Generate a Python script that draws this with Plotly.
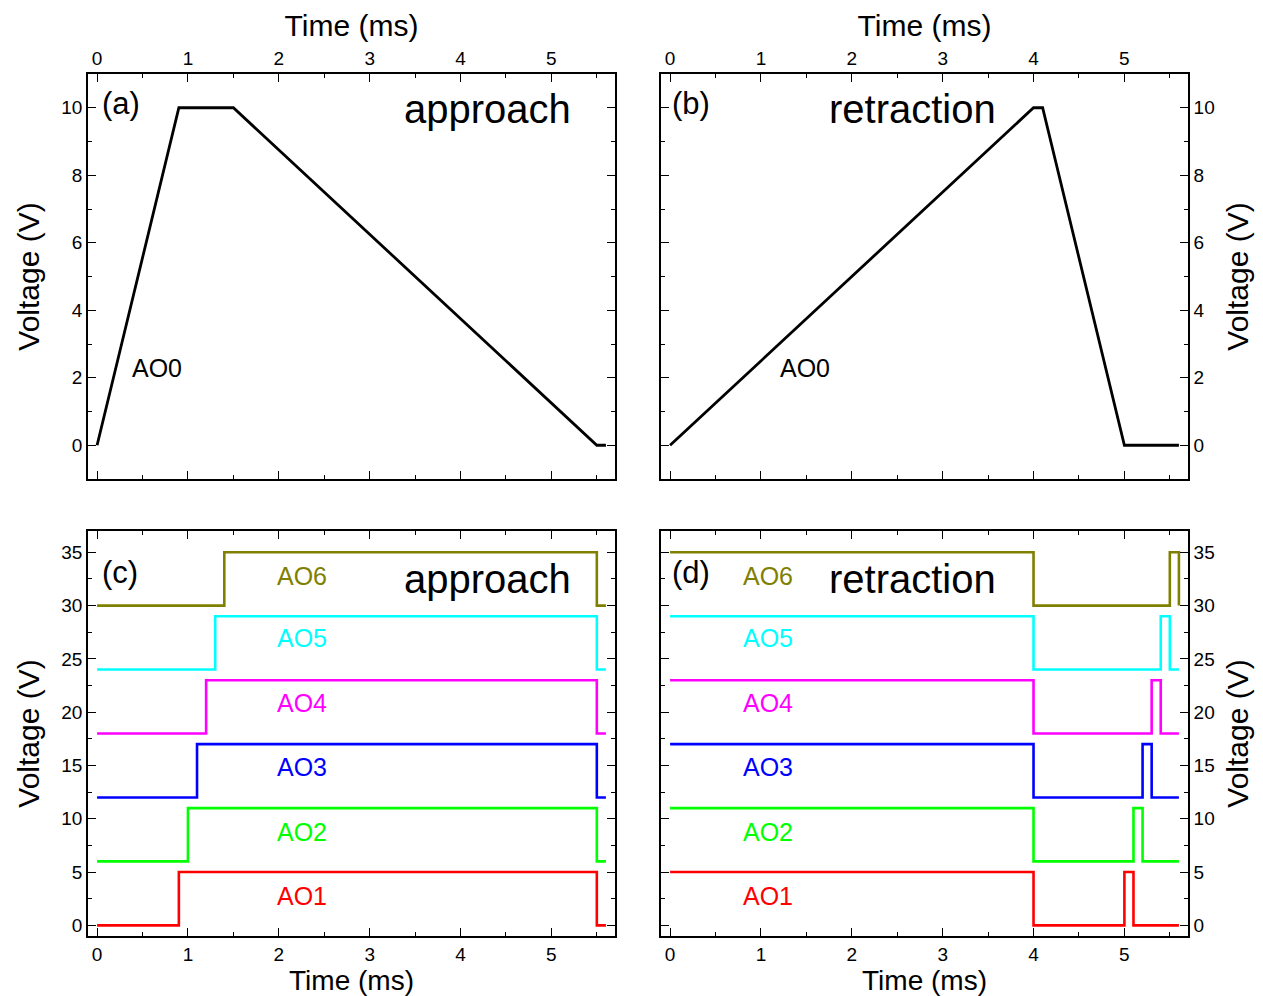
import plotly.graph_objects as go

# ---- data ----
t_approach = [0, 0.9, 1.5, 5.5, 5.6]
v_approach = [0, 10, 10, 0, 0]
t_retract = [0, 4.0, 4.1, 5.0, 5.6]
v_retract = [0, 10, 10, 0, 0]

channels = ["AO1", "AO2", "AO3", "AO4", "AO5", "AO6"]
colors = ["#FF0000", "#00FF00", "#0000FF", "#FF00FF", "#00FFFF", "#808000"]
offsets = [0, 6, 12, 18, 24, 30]
amplitude = 5
rise_c = [0.9, 1.0, 1.1, 1.2, 1.3, 1.4]
fall_c = 5.5
fall_d = 4.0
pulse_on_d = [5.0, 5.1, 5.2, 5.3, 5.4, 5.5]
pulse_off_d = [5.1, 5.2, 5.3, 5.4, 5.5, 5.6]
t_end = 5.6
label_y = [2.8, 8.8, 14.9, 20.9, 27.0, 32.8]

FONT = "Liberation Sans, Arial, Helvetica, sans-serif"

fig = go.Figure()

fig.add_trace(go.Scatter(x=t_approach, y=v_approach, mode="lines",
                         line=dict(color="black", width=2.8), xaxis="x", yaxis="y", showlegend=False))
fig.add_trace(go.Scatter(x=t_retract, y=v_retract, mode="lines",
                         line=dict(color="black", width=2.8), xaxis="x2", yaxis="y2", showlegend=False))

for i, ch in enumerate(channels):
    lo = offsets[i]
    hi = offsets[i] + amplitude
    xc = [0, rise_c[i], fall_c, t_end]
    yc = [lo, hi, lo, lo]
    fig.add_trace(go.Scatter(x=xc, y=yc, mode="lines", line=dict(color=colors[i], width=2.6, shape="hv"),
                             xaxis="x3", yaxis="y3", showlegend=False))
    xd = [0, fall_d, pulse_on_d[i], pulse_off_d[i], t_end]
    yd = [hi, lo, hi, lo, lo]
    fig.add_trace(go.Scatter(x=xd, y=yd, mode="lines", line=dict(color=colors[i], width=2.6, shape="hv"),
                             xaxis="x4", yaxis="y4", showlegend=False))

W, H = 1263, 996
xl = [88 / W, 615 / W]
xr = [661 / W, 1188 / W]
yt = [1 - 479 / H, 1 - 74 / H]
yb = [1 - 936 / H, 1 - 531 / H]

tickfont = dict(family=FONT, size=19, color="black")
titlefont = dict(family=FONT, size=30, color="black")
btitlefont = dict(family=FONT, size=28, color="black")

def xax(domain, anchor, side):
    return dict(domain=domain, anchor=anchor, side=side, range=[-0.1, 5.7], dtick=1, tick0=0,
                showgrid=False, zeroline=False, showline=True, linecolor="black", linewidth=1.6,
                mirror="ticks", ticks="inside", ticklen=8, tickwidth=1.4, tickcolor="black",
                minor=dict(ticks="inside", ticklen=4, dtick=0.5, tickwidth=1.2, tickcolor="black", showgrid=False),
                tickfont=tickfont,
                title=dict(text="Time (ms)", font=titlefont if side == "top" else btitlefont,
                           standoff=2 if side == "top" else 4))

def yax(domain, anchor, side, rng, dtick, mdtick):
    return dict(domain=domain, anchor=anchor, side=side, range=rng, dtick=dtick, tick0=0,
                showgrid=False, zeroline=False, showline=True, linecolor="black", linewidth=1.6,
                mirror="ticks", ticks="inside", ticklen=8, tickwidth=1.4, tickcolor="black",
                minor=dict(ticks="inside", ticklen=4, dtick=mdtick, tickwidth=1.2, tickcolor="black", showgrid=False),
                tickfont=tickfont, title=dict(text="Voltage (V)", font=titlefont, standoff=13))

fig.update_layout(
    width=W, height=H, margin=dict(l=0, r=0, t=0, b=0),
    paper_bgcolor="white", plot_bgcolor="white",
    xaxis=xax(xl, "y", "top"),
    yaxis=yax(yt, "x", "left", [-1, 11], 2, 1),
    xaxis2=xax(xr, "y2", "top"),
    yaxis2=yax(yt, "x2", "right", [-1, 11], 2, 1),
    xaxis3=xax(xl, "y3", "bottom"),
    yaxis3=yax(yb, "x3", "left", [-1, 37], 5, 2.5),
    xaxis4=xax(xr, "y4", "bottom"),
    yaxis4=yax(yb, "x4", "right", [-1, 37], 5, 2.5),
)

ann = []
def paper_text(x, y, text, size, color="black", xanchor="left"):
    ann.append(dict(x=x / W, y=1 - y / H, xref="paper", yref="paper", text=text, showarrow=False,
                    xanchor=xanchor, yanchor="middle", font=dict(family=FONT, size=size, color=color)))

paper_text(100, 104, "(a)", 31)
paper_text(488, 109, "approach", 40, xanchor="center")
paper_text(670, 104, "(b)", 31)
paper_text(912, 109, "retraction", 40, xanchor="center")
paper_text(100, 572, "(c)", 31)
paper_text(488, 579, "approach", 40, xanchor="center")
paper_text(670, 572, "(d)", 31)
paper_text(912, 579, "retraction", 40, xanchor="center")

ann.append(dict(x=0.66, y=2.3, xref="x", yref="y", text="AO0", showarrow=False,
                font=dict(family=FONT, size=25, color="black")))
ann.append(dict(x=1.48, y=2.3, xref="x2", yref="y2", text="AO0", showarrow=False,
                font=dict(family=FONT, size=25, color="black")))
for i, ch in enumerate(channels):
    ann.append(dict(x=2.25, y=label_y[i], xref="x3", yref="y3", text=ch, showarrow=False,
                    font=dict(family=FONT, size=25, color=colors[i])))
    ann.append(dict(x=1.08, y=label_y[i], xref="x4", yref="y4", text=ch, showarrow=False,
                    font=dict(family=FONT, size=25, color=colors[i])))

fig.update_layout(annotations=ann)
fig.write_html("out.html")
